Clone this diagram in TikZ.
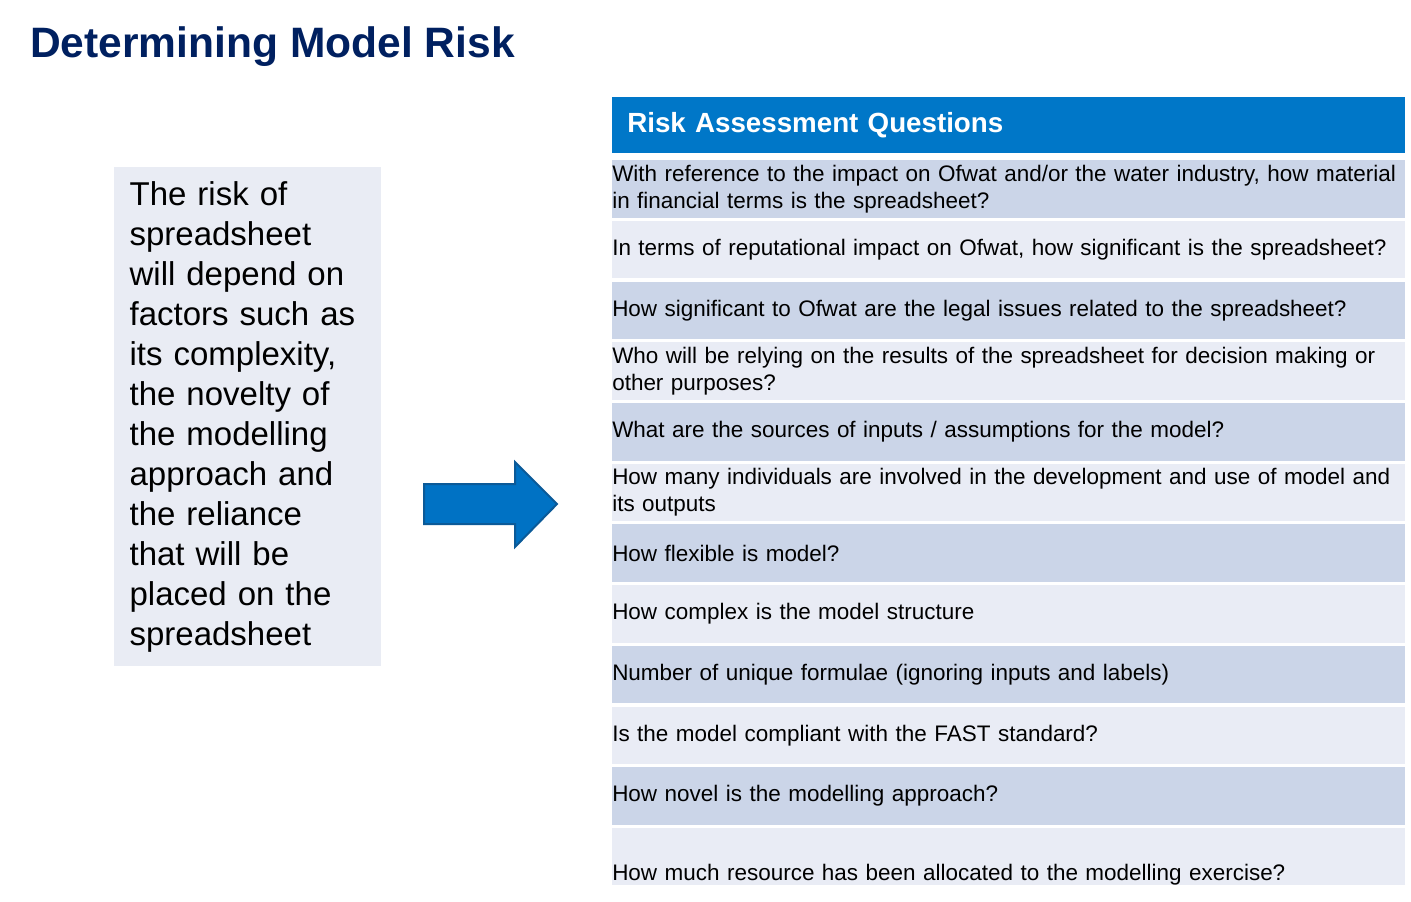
\documentclass[tikz,border=0pt]{standalone}
\usepackage{fontspec}
\setmainfont{Liberation Sans}
\hyphenpenalty=10000

\definecolor{titleblue}{HTML}{002060}
\definecolor{headblue}{HTML}{0077C8}
\definecolor{darkrow}{HTML}{CBD5E8}
\definecolor{lightrow}{HTML}{E9ECF5}
\definecolor{boxfill}{HTML}{E9ECF4}
\definecolor{arrowfill}{HTML}{0072C4}
\definecolor{arrowline}{HTML}{0B5A98}

\begin{document}
\begin{tikzpicture}[x=0.75pt,y=-0.75pt,
    rowbox/.style={anchor=north west, inner xsep=0pt, inner ysep=0pt,
      minimum width=594.75pt, minimum height=43.125pt, text width=594.75pt,
      align=left, font=\fontsize{16.85}{20.25}\selectfont},
    headbox/.style={anchor=north west, fill=headblue, text=white,
      inner xsep=11.25pt, inner ysep=0pt, minimum width=594.75pt,
      minimum height=42pt, text width=572.25pt, align=left,
      font=\bfseries\fontsize{20.8}{25}\selectfont},
    bigarrow/.style={fill=arrowfill, draw=arrowline, line width=1.5pt}]
      \useasboundingbox (0,0) rectangle (1411,902);
      % Nodes
      % title and left text
      \node[anchor=base west, inner sep=0pt, text=titleblue,
        font=\bfseries\fontsize{31.9}{38}\selectfont] (title) at (30,58) {Determining Model Risk};
      \node[anchor=north west, fill=boxfill, inner xsep=11.5pt, inner ysep=0pt,
        minimum height=374.25pt, text width=176.75pt, align=left,
        font=\fontsize{24.75}{30}\selectfont] (riskbox) at (114,167)
        {The risk of\\spreadsheet\\will depend on\\factors such as\\its complexity,\\the novelty of\\the modelling\\approach and\\the reliance\\that will be\\placed on the\\spreadsheet};
      % arrow
      \draw[bigarrow] (424,484) -- (515,484) -- (515,462) -- (557,504)
        -- (515,547) -- (515,524) -- (424,524) -- cycle;
      % question table
      \node[headbox] (head) at (612,97) {Risk Assessment Questions};
      \foreach \q [count=\i] in {
        {With reference to the impact on Ofwat and/or the water industry, how material\\in financial terms is the spreadsheet?},
        {In terms of reputational impact on Ofwat, how significant is the spreadsheet?},
        {How significant to Ofwat are the legal issues related to the spreadsheet?},
        {Who will be relying on the results of the spreadsheet for decision making or\\other purposes?},
        {What are the sources of inputs / assumptions for the model?},
        {How many individuals are involved in the development and use of model and\\its outputs},
        {How flexible is model?},
        {How complex is the model structure},
        {Number of unique formulae (ignoring inputs and labels)},
        {Is the model compliant with the FAST standard?},
        {How novel is the modelling approach?},
        {\raisebox{-17.6pt}[0pt][0pt]{How much resource has been allocated to the modelling exercise?}}} {
        \ifodd\i \def\rowcol{darkrow}\else \def\rowcol{lightrow}\fi
        \pgfmathsetmacro\rowtop{160+(\i-1)*60.7}
        \node[rowbox, fill=\rowcol] (q\i) at (612,\rowtop) {\q};
      }
\end{tikzpicture}
\end{document}
